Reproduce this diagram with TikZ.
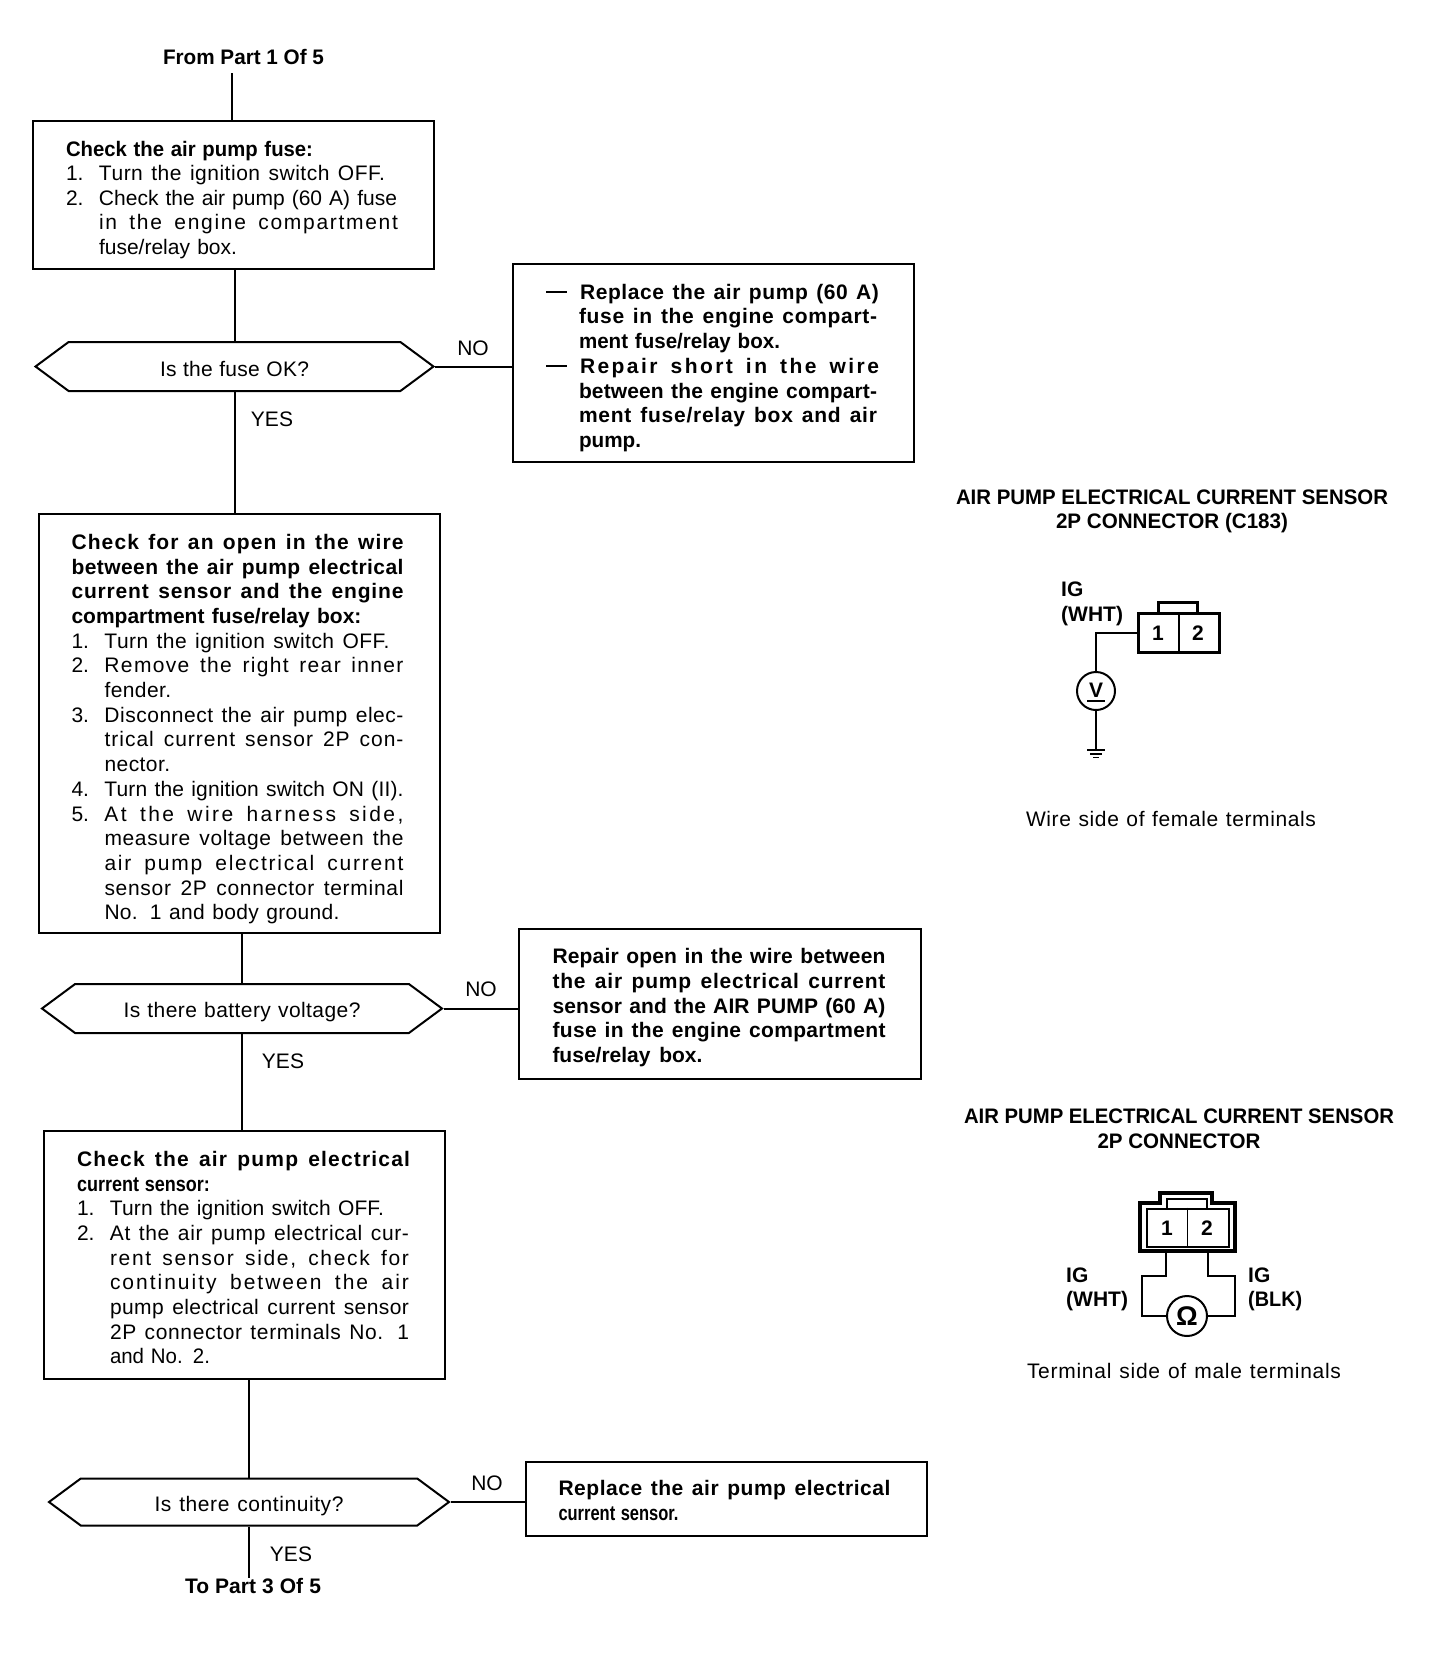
\documentclass[tikz,border=0pt]{standalone}
\usepackage{fontspec}
\usepackage{graphicx}
\setmainfont{Liberation Sans}
\usetikzlibrary{shapes.symbols}
\hbadness=10000 \hfuzz=50pt
\newsavebox\fitbox
\newcount\fitn
\makeatletter
\newcommand\fitl[2]{\leavevmode\sbox\fitbox{#2}%
  \ifdim\wd\fitbox>#1pt\relax
    \resizebox{#1pt}{\height}{\usebox\fitbox}%
  \else
    \dimen@=#1pt\relax\advance\dimen@ by -\wd\fitbox
    \ifdim\dimen@>3pt\relax
      \fitn=0\relax\@tfor\fit@x:=#2\do{\advance\fitn by 1\relax}%
      \pgfmathsetmacro\fitls{80*\the\dimen@/(\the\fitn*21)}%
      \edef\fitcmd{\noexpand\addfontfeature{LetterSpace=\fitls}}%
    \else
      \let\fitcmd\relax
    \fi
    {\fitcmd\hbox to #1pt{\spaceskip=0pt\xspaceskip=0pt #2}}%
  \fi}
\makeatother
\newcommand\nitem[3]{\leavevmode\makebox[33pt][l]{#1}\fitl{#2}{#3}}
\newcommand\cont[2]{\leavevmode\hspace*{33pt}\fitl{#1}{#2}}
\newcommand\dashitem[2]{\leavevmode\makebox[34pt][l]{\rule[6pt]{21pt}{2.5pt}}\fitl{#1}{#2}}
\newcommand\toppad[1]{\leavevmode\rule{0pt}{\dimexpr 16pt+#1pt\relax}}
\tikzset{
  base/.style={font=\fontsize{21}{24.6}\selectfont, text=black, inner sep=0pt},
  flowbox/.style={base, draw=black, line width=2pt, inner xsep=33pt, inner ysep=0pt,
    minimum width=401pt, text width=335pt, align=left},
  decision/.style={base, draw=black, line width=2pt, shape=signal, signal to=east and west,
    signal pointer angle=73, minimum width=398pt},
  lab/.style={base},
  blab/.style={base, font=\fontsize{21}{24.6}\selectfont\bfseries},
  wire/.style={line width=2pt, draw=black},
  thickwire/.style={line width=3pt, draw=black, line join=miter},
  meter/.style={base, draw=black, line width=2pt, shape=circle},
}
\begin{document}
\begin{tikzpicture}[x=1pt,y=-1pt]
\useasboundingbox (0,0) rectangle (1440,1674);
% top
\node[blab] (from) at (243.5,57) {\fitl{161}{From Part 1 Of 5}};
\coordinate (fromend) at (232,73);
\node[flowbox, minimum height=148pt] (b1) at (233.5,195) {%
  \toppad{9}%
  \textbf{\fitl{247}{Check the air pump fuse:}}\\
  \nitem{1.}{286}{Turn the ignition switch OFF.}\\
  \nitem{2.}{298}{Check the air pump (60 A) fuse}\\
  \cont{299}{in the engine compartment}\\
  \cont{138}{fuse/relay box.}};
\node[decision, minimum height=49pt] (d1) at (234.5,366.5) {\toppad{4.3}\fitl{149}{Is the fuse OK?}};
\node[flowbox, minimum height=198pt, font=\fontsize{21}{24.7}\selectfont\bfseries] (n1) at (713.5,363) {%
  \toppad{9}%
  \dashitem{299}{Replace the air pump (60 A)}\\
  \cont{298}{fuse in the engine compart-}\\
  \cont{201}{ment fuse/relay box.}\\
  \dashitem{299}{Repair short in the wire}\\
  \cont{298}{between the engine compart-}\\
  \cont{298}{ment fuse/relay box and air}\\
  \cont{62}{pump.}};
\node[lab] (no1) at (473,348) {NO};
\node[lab] (yes1) at (272,419) {YES};
% second
\node[flowbox, minimum height=419pt, font=\fontsize{21}{24.7}\selectfont] (b2) at (239,723.5) {%
  \toppad{10.5}%
  \textbf{\fitl{332}{Check for an open in the wire}}\\
  \textbf{\fitl{332}{between the air pump electrical}}\\
  \textbf{\fitl{332}{current sensor and the engine}}\\
  \textbf{\fitl{290}{compartment fuse/relay box:}}\\
  \nitem{1.}{285}{Turn the ignition switch OFF.}\\
  \nitem{2.}{299}{Remove the right rear inner}\\
  \cont{68}{fender.}\\
  \nitem{3.}{299}{Disconnect the air pump elec-}\\
  \cont{299}{trical current sensor 2P con-}\\
  \cont{67}{nector.}\\
  \nitem{4.}{299}{Turn the ignition switch ON (II).}\\
  \nitem{5.}{299}{At the wire harness side,}\\
  \cont{299}{measure voltage between the}\\
  \cont{299}{air pump electrical current}\\
  \cont{299}{sensor 2P connector terminal}\\
  \cont{235}{No. 1 and body ground.}};
\node[decision, minimum height=49pt, minimum width=400pt] (d2) at (242,1008.5) {\toppad{6.4}\fitl{237}{Is there battery voltage?}};
\node[flowbox, minimum height=150pt, minimum width=402pt, font=\fontsize{21}{24.7}\selectfont\bfseries] (n2) at (720,1004) {%
  \toppad{6.5}%
  \fitl{333}{Repair open in the wire between}\\
  \fitl{333}{the air pump electrical current}\\
  \fitl{333}{sensor and the AIR PUMP (60 A)}\\
  \fitl{333}{fuse in the engine compartment}\\
  \fitl{150}{fuse/relay box.}};
\node[lab] (no2) at (481,989) {NO};
\node[lab] (yes2) at (283,1061) {YES};
% third
\node[flowbox, minimum height=248pt, font=\fontsize{21}{24.7}\selectfont] (b3) at (244.5,1255) {%
  \toppad{4.5}%
  \textbf{\fitl{333}{Check the air pump electrical}}\\
  \textbf{\fitl{133}{current sensor:}}\\
  \nitem{1.}{274}{Turn the ignition switch OFF.}\\
  \nitem{2.}{299}{At the air pump electrical cur-}\\
  \cont{299}{rent sensor side, check for}\\
  \cont{299}{continuity between the air}\\
  \cont{299}{pump electrical current sensor}\\
  \cont{299}{2P connector terminals No. 1}\\
  \cont{100}{and No. 2.}};
\node[decision, minimum height=47pt, minimum width=400pt] (d3) at (249,1502) {\toppad{6.4}\fitl{189}{Is there continuity?}};
\node[flowbox, minimum height=74pt, minimum width=400pt, font=\fontsize{21}{24.7}\selectfont\bfseries] (n3) at (726,1499) {%
  \toppad{2}%
  \fitl{332}{Replace the air pump electrical}\\
  \fitl{120}{current sensor.}};
\node[lab] (no3) at (487,1483) {NO};
\node[lab] (yes3) at (291,1554) {YES};
\node[blab] (to) at (253,1586) {\fitl{136}{To Part 3 Of 5}};
% connectors
\draw[wire] (fromend) -- (fromend |- b1.north);
\draw[wire] (d1.north |- b1.south) -- (d1.north);
\draw[wire] (d1.south) -- (d1.south |- b2.north);
\draw[wire] (d2.north |- b2.south) -- (d2.north);
\draw[wire] (d2.south) -- (d2.south |- b3.north);
\draw[wire] (d3.north |- b3.south) -- (d3.north);
\coordinate (toend) at (249,1578);
\draw[wire] (d3.south) -- (toend);
\draw[wire] (d1.east) -- (d1.east -| n1.west);
\draw[wire] (d2.east) -- (d2.east -| n2.west);
\draw[wire] (d3.east) -- (d3.east -| n3.west);
% right upper
\node[blab, align=center] (h1) at (1172,511.5) {\fitl{432}{AIR PUMP ELECTRICAL CURRENT SENSOR}\\\fitl{232}{2P CONNECTOR (C183)}};
\node[blab, align=left, anchor=west] (ig1) at (1061,604) {IG\\(WHT)};
\node[draw=black, line width=3pt, minimum width=81pt, minimum height=39pt, inner sep=0pt] (c1) at (1179,633) {};
\draw[thickwire] (c1.north -| 1158.5,0) -- (1158.5,602.5) -- (1197.5,602.5) -- (c1.north -| 1197.5,0);
\draw[line width=1.5pt] (c1.north) -- (c1.south);
\node[blab] (c1a) at (1158,633) {1};
\node[blab] (c1b) at (1198,633) {2};
\node[meter, minimum size=38pt] (vm) at (1096,691) {\raisebox{2pt}{\textbf{V}}};
\draw[wire] ([xshift=-9pt,yshift=-10pt]vm.center) -- ([xshift=9pt,yshift=-10pt]vm.center);
\draw[wire] (c1.west) -| (vm.north);
\coordinate (g1) at (1096,750);
\draw[wire] (vm.south) -- (g1);
\draw[line width=1.5pt] ([xshift=-9pt]g1) -- ([xshift=9pt]g1);
\draw[line width=1.5pt] (1090,754) -- (1102,754);
\draw[line width=1.5pt] (1093,757.5) -- (1099,757.5);
\node[lab] (cap1) at (1171,819) {\fitl{290}{Wire side of female terminals}};
% right lower
\node[blab, align=center] (h2) at (1179,1128.5) {\fitl{430}{AIR PUMP ELECTRICAL CURRENT SENSOR}\\\fitl{163}{2P CONNECTOR}};
\draw[line width=3.5pt, draw=black] (1140,1203) -- (1160,1203) -- (1160,1193) -- (1212,1193) -- (1212,1203) -- (1235,1203) -- (1235,1251) -- (1140,1251) -- cycle;
\node[draw=black, line width=2pt, minimum width=82pt, minimum height=38pt, inner sep=0pt] (c2) at (1187.5,1227.5) {};
\draw[wire] (1167,1208) -- (1167,1198.5) -- (1207,1198.5) -- (1207,1208);
\draw[line width=1.5pt] (c2.north) -- (c2.south);
\node[blab] (c2a) at (1167,1228) {1};
\node[blab] (c2b) at (1207,1228) {2};
\node[meter, minimum size=40pt] (om) at (1187,1316) {\fontsize{27}{27}\selectfont\textbf{Ω}};
\coordinate (t1) at (1166,1252);
\coordinate (t2) at (1208,1252);
\draw[wire] (t1) -- (1166,1276) -- (1142,1276) |- (om.west);
\draw[wire] (t2) -- (1208,1276) -- (1235,1276) |- (om.east);
\node[blab, align=left, anchor=west] (ig2) at (1066,1289.5) {IG\\(WHT)};
\node[blab, align=left, anchor=west] (ig3) at (1248,1289.5) {IG\\\fitl{54}{(BLK)}};
\node[lab] (cap2) at (1184,1370.5) {\fitl{314}{Terminal side of male terminals}};
\end{tikzpicture}
\end{document}
